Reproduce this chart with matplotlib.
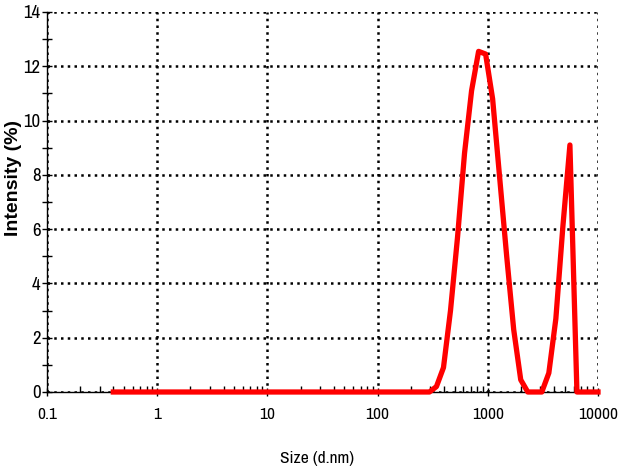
import matplotlib
matplotlib.use("Agg")
import matplotlib.pyplot as plt
from matplotlib import font_manager
from matplotlib.ticker import FixedLocator, LogLocator, NullFormatter, FixedFormatter

# Size classes (d.nm)
sizes = [0.4, 0.4632, 0.5365, 0.6213, 0.7195, 0.8332, 0.9649, 1.117, 1.294, 1.499,
         1.736, 2.01, 2.328, 2.696, 3.122, 3.615, 4.187, 4.849, 5.615, 6.503,
         7.531, 8.721, 10.1, 11.7, 13.54, 15.69, 18.17, 21.04, 24.36, 28.21,
         32.67, 37.84, 43.82, 50.75, 58.77, 68.06, 78.82, 91.28, 105.7, 122.4,
         141.8, 164.2, 190.1, 220.2, 255.0, 295.3, 342.0, 396.1, 458.7, 531.2,
         615.1, 712.4, 825.0, 955.4, 1106, 1281, 1484, 1718, 1990, 2305,
         2669, 3091, 3580, 4145, 4801, 5560, 6439, 7456, 8635, 10000]

# Intensity (%)
intensity = [0, 0, 0, 0, 0, 0, 0, 0, 0, 0,
             0, 0, 0, 0, 0, 0, 0, 0, 0, 0,
             0, 0, 0, 0, 0, 0, 0, 0, 0, 0,
             0, 0, 0, 0, 0, 0, 0, 0, 0, 0,
             0, 0, 0, 0, 0, 0, 0.2, 0.9, 3.0, 5.7,
             8.8, 11.1, 12.55, 12.45, 10.8, 7.9, 5.0, 2.3, 0.45, 0,
             0, 0, 0.7, 2.7, 6.1, 9.1, 0, 0, 0, 0]

x_ticks = [0.1, 1, 10, 100, 1000, 10000]
x_ticklabels = ["0.1", "1", "10", "100", "1000", "10000"]
y_ticks = [0, 2, 4, 6, 8, 10, 12, 14]
y_ticklabels = ["0", "2", "4", "6", "8", "10", "12", "14"]

available = {f.name for f in font_manager.fontManager.ttflist}


def pick(cands, default):
    for c in cands:
        if c in available:
            return c
    return default


narrow_font = pick(["Liberation Sans Narrow", "Arial Narrow", "Archivo Narrow",
                    "PT Sans Narrow", "Roboto Condensed", "Open Sans Condensed"], None)
bold_font = pick(["Liberation Sans", "Arimo", "Arial"], "DejaVu Sans")

if narrow_font is None:
    narrow = dict(fontfamily=["DejaVu Sans"], fontstretch="condensed")
    xtick_fs, ytick_fs = 10.5, 11.5
else:
    narrow = dict(fontfamily=[narrow_font, "DejaVu Sans"])
    xtick_fs, ytick_fs = (12.5, 13.5) if "Condensed" not in narrow_font else (11.5, 12.5)

fig = plt.figure(figsize=(6.19, 4.74), dpi=100)
ax = fig.add_axes([47 / 619, (474 - 392) / 474, (598 - 47) / 619, (392 - 12) / 474])

ax.plot(sizes, intensity, color="#ff0000", lw=3.8, clip_on=False, zorder=5)

ax.set_xscale("log")
ax.set_xlim(0.1, 10000)
ax.set_ylim(0, 14)

ax.xaxis.set_major_locator(FixedLocator(x_ticks))
ax.xaxis.set_major_formatter(FixedFormatter(x_ticklabels))
ax.xaxis.set_minor_locator(LogLocator(base=10, subs=[2, 3, 4, 5, 6, 7, 8, 9], numticks=20))
ax.xaxis.set_minor_formatter(NullFormatter())
ax.yaxis.set_major_locator(FixedLocator(y_ticks))
ax.yaxis.set_major_formatter(FixedFormatter(y_ticklabels))
ax.yaxis.set_minor_locator(FixedLocator([1, 3, 5, 7, 9, 11, 13]))

ax.grid(True, which="major", color="black", linestyle=(0, (1, 1.7)), lw=1.8)

for s in ["top", "right"]:
    ax.spines[s].set_visible(False)
for s in ["left", "bottom"]:
    ax.spines[s].set_linewidth(1.0)
    ax.spines[s].set_color("black")

ax.tick_params(axis="x", which="major", direction="inout", length=6, width=1, pad=8)
ax.tick_params(axis="x", which="minor", direction="in", length=4, width=1)
ax.tick_params(axis="y", which="major", direction="inout", length=7, width=1, pad=1)
ax.tick_params(axis="y", which="minor", direction="inout", length=7, width=1)

for labs, fs in ((ax.get_xticklabels(), xtick_fs), (ax.get_yticklabels(), ytick_fs)):
    for lab in labs:
        lab.set_fontfamily(narrow["fontfamily"])
        if "fontstretch" in narrow:
            lab.set_fontstretch(narrow["fontstretch"])
        lab.set_fontsize(fs)

ax.set_xlabel("Size (d.nm)", fontsize=12.5, **narrow)
ax.xaxis.set_label_coords(0.49, -0.155)
ax.set_ylabel("Intensity (%)", fontfamily=[bold_font, "DejaVu Sans"], fontweight="bold", fontsize=14)
ax.yaxis.set_label_coords(-0.06, 0.563)
ax.yaxis.label.set_va("center")

fig.savefig("out.png", dpi=100)
